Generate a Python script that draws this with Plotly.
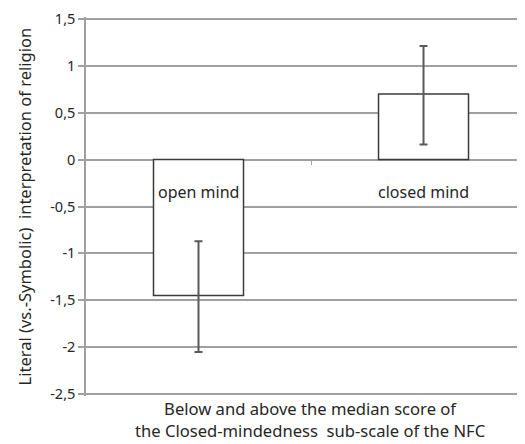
import plotly.graph_objects as go

categories = ["open mind", "closed mind"]
means = [-1.45, 0.70]
err_plus = [0.58, 0.51]
err_minus = [0.60, 0.54]
tick_vals = [1.5, 1, 0.5, 0, -0.5, -1, -1.5, -2, -2.5]
tick_text = ["1,5", "1", "0,5", "0", "-0,5", "-1", "-1,5", "-2", "-2,5"]
y_title = "Literal (vs.-Symbolic)  interpretation of religion"
x_title = "Below and above the median score of<br>the Closed-mindedness  sub-scale of the NFC"

FONT = "Noto Sans"
TXT = "#262626"
GRID = "#a0a0a0"
Y_TOP = 1.52
Y_BOT = -2.52

fig = go.Figure()
fig.add_trace(go.Bar(
    x=list(range(len(categories))), y=means,
    width=0.4,
    marker=dict(color="white", line=dict(color="#3a3a3a", width=1.5)),
    error_y=dict(type="data", symmetric=False, array=err_plus, arrayminus=err_minus,
                 color="#5a5a5a", thickness=2, width=4),
    showlegend=False,
))

for i, c in enumerate(categories):
    fig.add_annotation(x=i, y=0, xref="x", yref="y", text=c, showarrow=False,
                       yanchor="middle", yshift=-32,
                       font=dict(family=FONT, size=16, color=TXT))

fig.add_annotation(x=0.510, y=-0.0615, xref="paper", yref="paper", text=x_title,
                   showarrow=False, xanchor="center", yanchor="middle",
                   font=dict(family=FONT, size=16.6, color=TXT))
fig.add_annotation(x=-0.139, y=0.5, xref="paper", yref="paper", text=y_title,
                   showarrow=False, textangle=-90, xanchor="center", yanchor="middle",
                   font=dict(family=FONT, size=16.5, color=TXT))

fig.update_layout(
    width=517, height=436,
    margin=dict(l=78, r=0, t=6, b=48),
    plot_bgcolor="white", paper_bgcolor="white",
    font=dict(family=FONT, size=14.5, color=TXT),
    xaxis=dict(range=[-0.5, 1.451], showgrid=False, zeroline=False,
               anchor="free", position=-Y_BOT / (Y_TOP - Y_BOT), showline=False,
               tickvals=[0.5], ticktext=[""], ticks="outside", ticklen=4,
               tickcolor=GRID, tickwidth=1),
    yaxis=dict(range=[Y_BOT, Y_TOP], tickvals=tick_vals, ticktext=tick_text,
               ticklabeloverflow="allow",
               showgrid=True, gridcolor=GRID, gridwidth=1.5,
               zeroline=True, zerolinecolor=GRID, zerolinewidth=1.5,
               showline=True, linecolor=GRID, linewidth=1.5,
               ticks="outside", ticklen=6, tickcolor=GRID, tickwidth=1.5,
               tickfont=dict(family=FONT, size=14.5, color=TXT)),
)

fig.write_html("out.html")
